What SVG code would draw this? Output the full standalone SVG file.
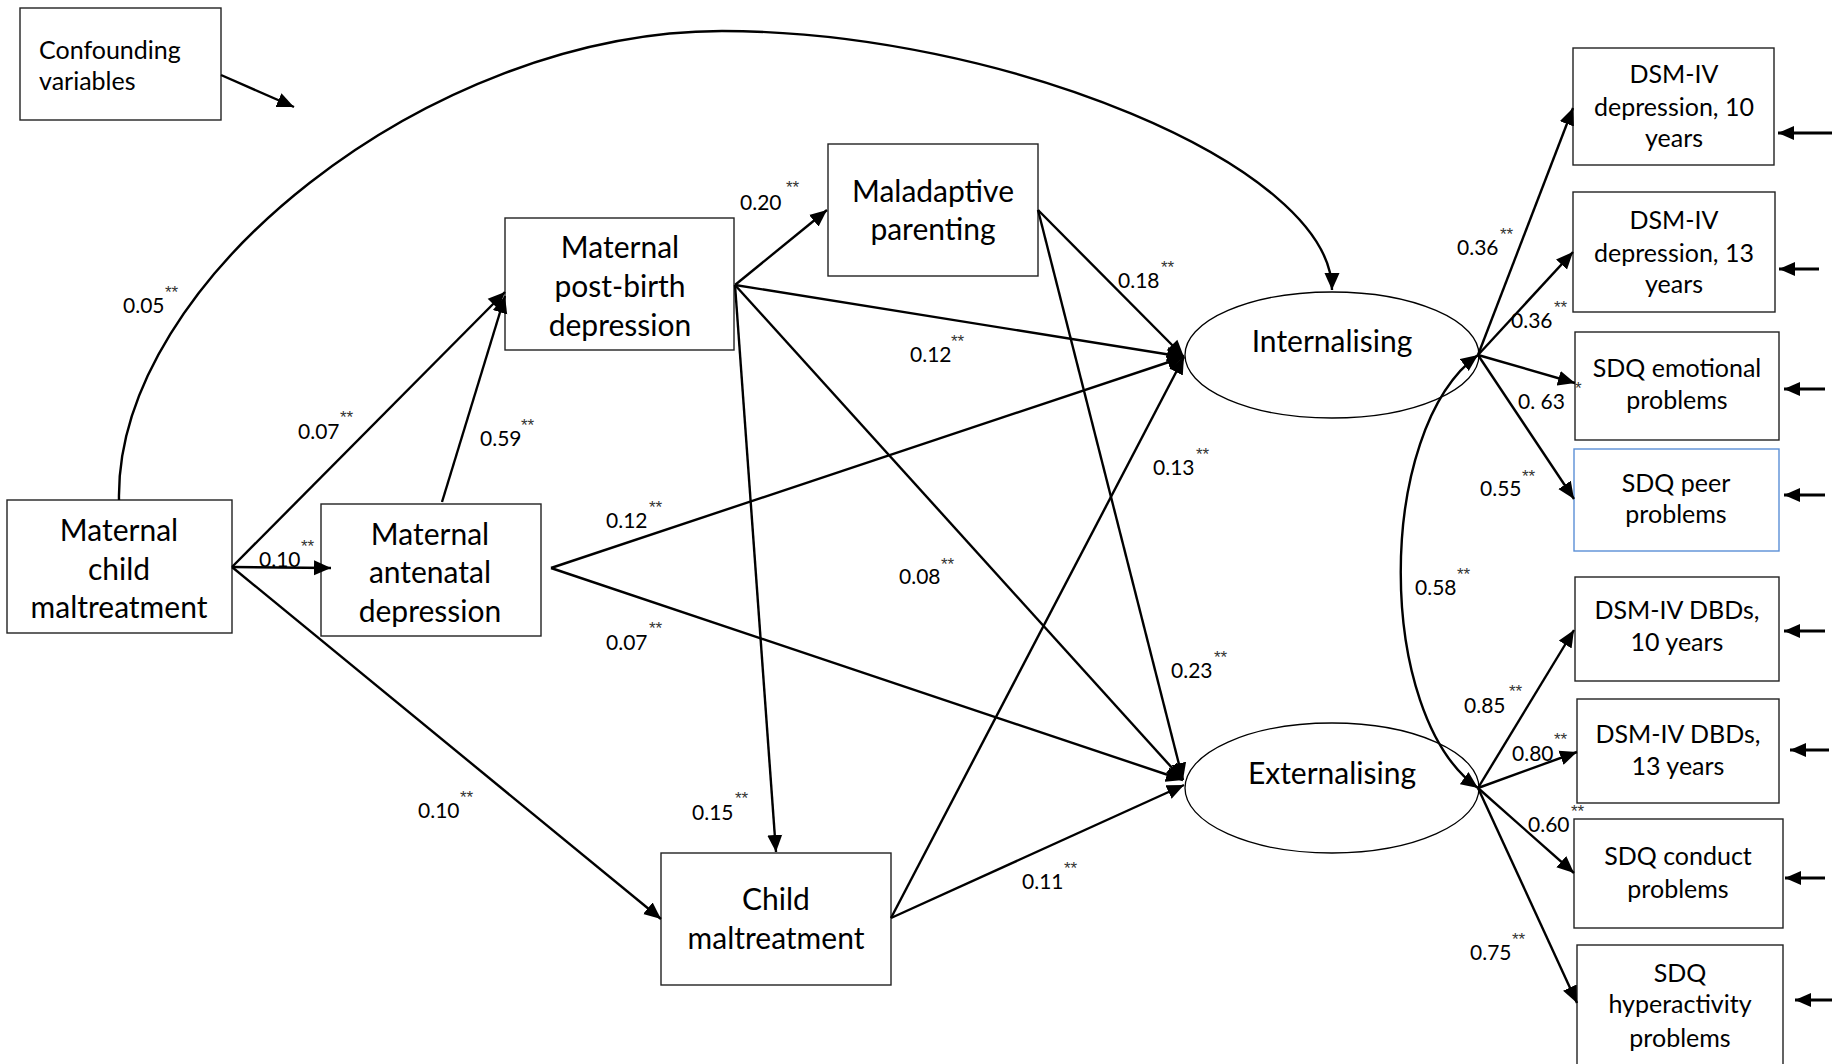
<svg xmlns="http://www.w3.org/2000/svg" width="1832" height="1064" viewBox="0 0 1832 1064">
  <style>
    text { font-family: Lato, "Open Sans", "Liberation Sans", sans-serif; fill: #000; }
    .box { fill: #fff; stroke: #222; stroke-width: 1.4; }
    .box-blue { fill: #fff; stroke: #5b8fd6; stroke-width: 1.4; }
    .lat { fill: #fff; stroke: #000; stroke-width: 1.3; }
    .n { font-size: 30px; text-anchor: middle; }
    .s { font-size: 25px; text-anchor: middle; }
    .sl { font-size: 25px; }
    .c { font-size: 21px; }
    .a { font-family: "Liberation Sans", Arial, sans-serif; font-size: 17px; fill: #333; }
    .edge { fill: none; stroke: #000; stroke-width: 2.4; marker-end: url(#ah); }
    .err { fill: none; stroke: #000; stroke-width: 2.8; marker-end: url(#ahs); }
  </style>
  <defs>
    <marker id="ah" viewBox="0 0 17 16" refX="17" refY="8" markerWidth="17" markerHeight="16" markerUnits="userSpaceOnUse" orient="auto">
      <path d="M0,0.5 L17,8 L0,15.5 z" fill="#000"/>
    </marker>
    <marker id="ah2" viewBox="0 0 17 16" refX="17" refY="8" markerWidth="17" markerHeight="16" markerUnits="userSpaceOnUse" orient="auto-start-reverse">
      <path d="M0,0.5 L17,8 L0,15.5 z" fill="#000"/>
    </marker>
    <marker id="ahs" viewBox="0 0 16 14" refX="16" refY="7" markerWidth="16" markerHeight="14" markerUnits="userSpaceOnUse" orient="auto">
      <path d="M0,0 L16,7 L0,14 z" fill="#000"/>
    </marker>
  </defs>

  <!-- observed and latent variables -->
  <g id="confounding">
    <rect class="box" x="20" y="8" width="201" height="112"/>
    <text class="sl" x="39" y="59">Confounding</text>
    <text class="sl" x="39" y="90">variables</text>
  </g>
  <g id="maternal-child-maltreatment">
    <rect class="box" x="7" y="500" width="225" height="133"/>
    <text class="n" x="119" y="541">Maternal</text>
    <text class="n" x="119" y="580">child</text>
    <text class="n" x="119" y="618">maltreatment</text>
  </g>
  <g id="antenatal-depression">
    <rect class="box" x="321" y="504" width="220" height="132"/>
    <text class="n" x="430" y="545">Maternal</text>
    <text class="n" x="430" y="583">antenatal</text>
    <text class="n" x="430" y="622">depression</text>
  </g>
  <g id="postbirth-depression">
    <rect class="box" x="505" y="218" width="229" height="132"/>
    <text class="n" x="620" y="258">Maternal</text>
    <text class="n" x="620" y="297">post-birth</text>
    <text class="n" x="620" y="336">depression</text>
  </g>
  <g id="maladaptive-parenting">
    <rect class="box" x="828" y="144" width="210" height="132"/>
    <text class="n" x="933" y="202">Maladaptive</text>
    <text class="n" x="933" y="240">parenting</text>
  </g>
  <g id="child-maltreatment">
    <rect class="box" x="661" y="853" width="230" height="132"/>
    <text class="n" x="776" y="910">Child</text>
    <text class="n" x="776" y="949">maltreatment</text>
  </g>
  <g id="internalising">
    <ellipse class="lat" cx="1332" cy="355" rx="147" ry="63"/>
    <text class="n" x="1332" y="352">Internalising</text>
  </g>
  <g id="externalising">
    <ellipse class="lat" cx="1332" cy="788" rx="147" ry="65"/>
    <text class="n" x="1332" y="784">Externalising</text>
  </g>
  <g id="dsm-depression-10">
    <rect class="box" x="1573" y="48" width="201" height="117"/>
    <text class="s" x="1674" y="83">DSM-IV</text>
    <text class="s" x="1674" y="116">depression, 10</text>
    <text class="s" x="1674" y="147">years</text>
  </g>
  <g id="dsm-depression-13">
    <rect class="box" x="1573" y="192" width="202" height="120"/>
    <text class="s" x="1674" y="229">DSM-IV</text>
    <text class="s" x="1674" y="262">depression, 13</text>
    <text class="s" x="1674" y="293">years</text>
  </g>
  <g id="sdq-emotional">
    <rect class="box" x="1575" y="332" width="204" height="108"/>
    <text class="s" x="1677" y="377">SDQ emotional</text>
    <text class="s" x="1677" y="409">problems</text>
  </g>
  <g id="sdq-peer">
    <rect class="box-blue" x="1574" y="449" width="205" height="102"/>
    <text class="s" x="1676" y="492">SDQ peer</text>
    <text class="s" x="1676" y="523">problems</text>
  </g>
  <g id="dsm-dbd-10">
    <rect class="box" x="1575" y="577" width="204" height="104"/>
    <text class="s" x="1677" y="619">DSM-IV DBDs,</text>
    <text class="s" x="1677" y="651">10 years</text>
  </g>
  <g id="dsm-dbd-13">
    <rect class="box" x="1577" y="699" width="202" height="104"/>
    <text class="s" x="1678" y="743">DSM-IV DBDs,</text>
    <text class="s" x="1678" y="775">13 years</text>
  </g>
  <g id="sdq-conduct">
    <rect class="box" x="1574" y="819" width="209" height="109"/>
    <text class="s" x="1678" y="865">SDQ conduct</text>
    <text class="s" x="1678" y="898">problems</text>
  </g>
  <g id="sdq-hyperactivity">
    <rect class="box" x="1577" y="945" width="206" height="130"/>
    <text class="s" x="1680" y="982">SDQ</text>
    <text class="s" x="1680" y="1013">hyperactivity</text>
    <text class="s" x="1680" y="1047">problems</text>
  </g>

  <!-- paths -->
  <g id="connectors">
    <line class="edge" x1="221" y1="75" x2="294" y2="107"/>
    <path class="edge" d="M119,500 C115,280 430,31 722,31 C1000,31 1332,165 1332,290"/>
    <line class="edge" x1="232" y1="567" x2="331" y2="568"/>
    <line class="edge" x1="232" y1="567" x2="505" y2="292"/>
    <line class="edge" x1="442" y1="502" x2="505" y2="296"/>
    <line class="edge" x1="232" y1="567" x2="661" y2="919"/>
    <line class="edge" x1="735" y1="285" x2="827" y2="210"/>
    <line class="edge" x1="735" y1="285" x2="1184" y2="357"/>
    <line class="edge" x1="735" y1="285" x2="1183" y2="780"/>
    <line class="edge" x1="735" y1="285" x2="776" y2="852"/>
    <line class="edge" x1="1038" y1="210" x2="1184" y2="357"/>
    <line class="edge" x1="1038" y1="210" x2="1183" y2="780"/>
    <line class="edge" x1="551" y1="568" x2="1184" y2="357"/>
    <line class="edge" x1="551" y1="568" x2="1183" y2="780"/>
    <line class="edge" x1="891" y1="918" x2="1184" y2="357"/>
    <line class="edge" x1="891" y1="918" x2="1184" y2="785"/>
    <path fill="none" stroke="#000" stroke-width="2.4" marker-start="url(#ah2)" marker-end="url(#ah2)" d="M1478,355 C1375,430 1375,715 1478,788"/>
    <line class="edge" x1="1478" y1="355" x2="1573" y2="108"/>
    <line class="edge" x1="1478" y1="355" x2="1573" y2="252"/>
    <line class="edge" x1="1478" y1="355" x2="1575" y2="383"/>
    <line class="edge" x1="1478" y1="355" x2="1574" y2="499"/>
    <line class="edge" x1="1478" y1="788" x2="1574" y2="630"/>
    <line class="edge" x1="1478" y1="788" x2="1577" y2="752"/>
    <line class="edge" x1="1478" y1="788" x2="1574" y2="873"/>
    <line class="edge" x1="1478" y1="788" x2="1577" y2="1003"/>
    <line class="err" x1="1832" y1="133" x2="1778" y2="133"/>
    <line class="err" x1="1819" y1="269" x2="1779" y2="269"/>
    <line class="err" x1="1825" y1="389" x2="1784" y2="389"/>
    <line class="err" x1="1825" y1="495" x2="1784" y2="495"/>
    <line class="err" x1="1825" y1="631" x2="1784" y2="631"/>
    <line class="err" x1="1829" y1="750" x2="1790" y2="750"/>
    <line class="err" x1="1825" y1="878" x2="1785" y2="878"/>
    <line class="err" x1="1832" y1="1000" x2="1795" y2="1000"/>
  </g>

  <!-- standardised coefficients -->
  <g id="coefficients">
    <text class="c" x="123" y="313">0.05</text><text class="a" x="165" y="298">**</text>
    <text class="c" x="298" y="439">0.07</text><text class="a" x="340" y="423">**</text>
    <text class="c" x="480" y="446">0.59</text><text class="a" x="521" y="431">**</text>
    <text class="c" x="259" y="567">0.10</text><text class="a" x="301" y="552">**</text>
    <text class="c" x="418" y="818">0.10</text><text class="a" x="460" y="803">**</text>
    <text class="c" x="740" y="210">0.20</text><text class="a" x="786" y="193">**</text>
    <text class="c" x="910" y="362">0.12</text><text class="a" x="951" y="347">**</text>
    <text class="c" x="1118" y="288">0.18</text><text class="a" x="1161" y="273">**</text>
    <text class="c" x="1153" y="475">0.13</text><text class="a" x="1196" y="460">**</text>
    <text class="c" x="606" y="528">0.12</text><text class="a" x="649" y="513">**</text>
    <text class="c" x="606" y="650">0.07</text><text class="a" x="649" y="634">**</text>
    <text class="c" x="899" y="584">0.08</text><text class="a" x="941" y="570">**</text>
    <text class="c" x="1171" y="678">0.23</text><text class="a" x="1214" y="663">**</text>
    <text class="c" x="692" y="820">0.15</text><text class="a" x="735" y="804">**</text>
    <text class="c" x="1022" y="889">0.11</text><text class="a" x="1064" y="874">**</text>
    <text class="c" x="1457" y="255">0.36</text><text class="a" x="1500" y="240">**</text>
    <text class="c" x="1511" y="328">0.36</text><text class="a" x="1554" y="313">**</text>
    <text class="c" x="1518" y="409">0. 63</text><text class="a" x="1575" y="394">*</text>
    <text class="c" x="1480" y="496">0.55</text><text class="a" x="1522" y="482">**</text>
    <text class="c" x="1415" y="595">0.58</text><text class="a" x="1457" y="580">**</text>
    <text class="c" x="1464" y="713">0.85</text><text class="a" x="1509" y="697">**</text>
    <text class="c" x="1512" y="761">0.80</text><text class="a" x="1554" y="745">**</text>
    <text class="c" x="1528" y="832">0.60</text><text class="a" x="1571" y="817">**</text>
    <text class="c" x="1470" y="960">0.75</text><text class="a" x="1512" y="945">**</text>
  </g>
</svg>
